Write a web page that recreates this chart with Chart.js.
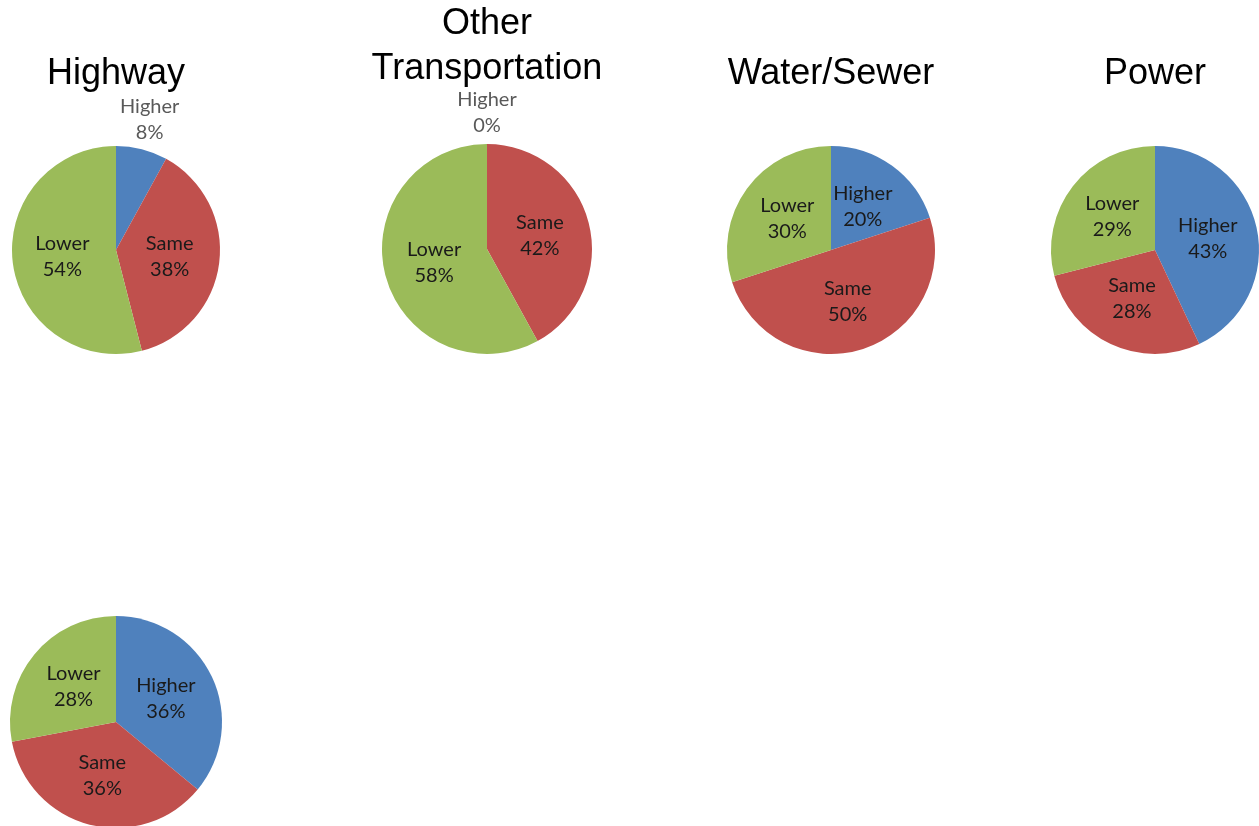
<!DOCTYPE html>
<html>
<head>
<meta charset="utf-8">
<script src="https://cdn.jsdelivr.net/npm/chart.js@4.4.0/dist/chart.umd.min.js"></script>
<style>
  html, body { margin: 0; padding: 0; background: #fff; overflow: hidden; }
  body { width: 1259px; height: 826px; position: relative; }
  .pie { position: absolute; }
</style>
</head>
<body>
<div class="pie" id="box0"><canvas id="pie0"></canvas></div>
<div class="pie" id="box1"><canvas id="pie1"></canvas></div>
<div class="pie" id="box2"><canvas id="pie2"></canvas></div>
<div class="pie" id="box3"><canvas id="pie3"></canvas></div>
<div class="pie" id="box4"><canvas id="pie4"></canvas></div>
<script>
const categories = ["Higher", "Same", "Lower"];
const chartTitles = ["Highway", ["Other", "Transportation"], "Water/Sewer", "Power", ""];
const highwayValues = [8, 38, 54];
const otherTransportValues = [0, 42, 58];
const waterSewerValues = [20, 50, 30];
const powerValues = [43, 28, 29];
const fifthValues = [36, 36, 28];

const seriesList = [highwayValues, otherTransportValues, waterSewerValues, powerValues, fifthValues];
const sliceColors = ["#4F81BD", "#C0504D", "#9BBB59"];

// where each little chart sits on the page
const boxes = [
  { left: -34, top: 0, width: 300, height: 370, titleTop: 51.5, titleBottom: 49.5, padTop: 0, padBottom: 16 },
  { left: 337, top: 0, width: 300, height: 370, titleTop: 2, titleBottom: 52, padTop: 0, padBottom: 16 },
  { left: 681, top: 0, width: 300, height: 370, titleTop: 51.5, titleBottom: 49.5, padTop: 0, padBottom: 16 },
  { left: 1005, top: 0, width: 300, height: 370, titleTop: 51.5, titleBottom: 49.5, padTop: 0, padBottom: 16 },
  { left: -34, top: 560, width: 300, height: 280, titleTop: 0, titleBottom: 0, padTop: 56, padBottom: 12 },
];

// Excel style labels: name + percent, small slices pushed outside
const sliceLabels = {
  id: "sliceLabels",
  afterDatasetsDraw(chart) {
    const ctx = chart.ctx;
    const meta = chart.getDatasetMeta(0);
    const data = chart.data.datasets[0].data;
    const total = data.reduce((a, b) => a + b, 0);
    ctx.save();
    ctx.font = "20px Lato, 'Open Sans', sans-serif";
    ctx.textAlign = "center";
    ctx.textBaseline = "middle";
    meta.data.forEach((arc, i) => {
      const p = arc.getProps(["x", "y", "startAngle", "endAngle", "outerRadius"], true);
      const mid = (p.startAngle + p.endAngle) / 2;
      const pct = data[i] / total * 100;
      const outside = pct < 10;
      const d = p.outerRadius * (outside ? 1.3 : 0.52);
      const lx = p.x + Math.cos(mid) * d;
      const ly = p.y + Math.sin(mid) * d;
      ctx.fillStyle = outside ? "#595959" : "#1a1a1a";
      ctx.fillText(chart.data.labels[i], lx, ly - 13);
      ctx.fillText(Math.round(pct) + "%", lx, ly + 13);
    });
    ctx.restore();
  },
};

seriesList.forEach((values, i) => {
  const b = boxes[i];
  const box = document.getElementById("box" + i);
  box.style.left = b.left + "px";
  box.style.top = b.top + "px";
  box.style.width = b.width + "px";
  box.style.height = b.height + "px";

  new Chart(document.getElementById("pie" + i), {
    type: "pie",
    data: {
      labels: categories,
      datasets: [
        {
          data: values,
          backgroundColor: sliceColors,
          borderWidth: 0,
          hoverOffset: 0,
        },
      ],
    },
    options: {
      responsive: true,
      maintainAspectRatio: false,
      animation: false,
      layout: {
        padding: { top: b.padTop, bottom: b.padBottom, left: 0, right: 0 },
      },
      plugins: {
        legend: { display: false },
        tooltip: { enabled: false },
        title: {
          display: chartTitles[i] !== "",
          text: chartTitles[i],
          color: "#000",
          font: { family: "'Liberation Sans', Arial, sans-serif", size: 36, weight: "normal", lineHeight: 1.25 },
          padding: { top: b.titleTop, bottom: b.titleBottom },
        },
      },
    },
    plugins: [sliceLabels],
  });
});
</script>
</body>
</html>
